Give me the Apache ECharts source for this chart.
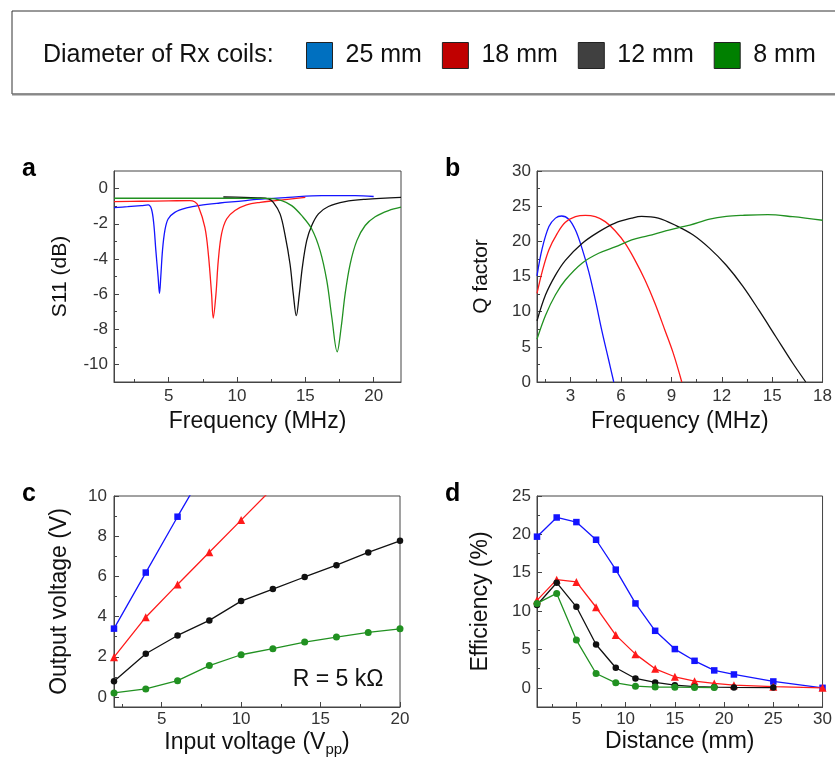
<!DOCTYPE html>
<html>
<head>
<meta charset="utf-8">
<title>Rx coil characterisation</title>
<script src="https://cdn.jsdelivr.net/npm/echarts@6/dist/echarts.min.js"></script>
<style>
  html, body { margin: 0; padding: 0; background: #fff; }
  #chart { width: 835px; height: 765px; }
</style>
</head>
<body>
<div id="chart"></div>
<script>
// ---- series names / colours ----
const coilNames = ['25 mm', '18 mm', '12 mm', '8 mm'];
const lineColors = ['#1414ff', '#ff1a1a', '#111111', '#219121'];
const swatchColors = ['#0070c0', '#c00000', '#404040', '#008000'];
const markerShapes = ['rect', 'triangle', 'circle', 'circle'];

// ---- (a) S11 vs frequency, [MHz, dB] ----
const s11_25mm = [[1.0,-1.08],[2.0,-1.03],[3.0,-0.97],[3.5,-0.93],[3.74,-1.16],[3.91,-2.0],[4.06,-3.5],[4.23,-5.05],[4.33,-5.96],[4.42,-5.05],[4.55,-3.5],[4.72,-2.39],[4.96,-1.73],[5.45,-1.35],[6.31,-1.1],[7.28,-0.95],[8.75,-0.82],[10.46,-0.7],[11.44,-0.61],[13.76,-0.5],[16.2,-0.4],[18.65,-0.4],[20.0,-0.45]];
const s11_18mm = [[1.0,-0.74],[3.0,-0.72],[5.0,-0.7],[6.56,-0.68],[6.9,-0.75],[7.16,-0.97],[7.65,-2.2],[7.9,-3.7],[8.14,-6.0],[8.26,-7.36],[8.46,-6.0],[8.63,-4.1],[8.87,-2.58],[9.24,-1.73],[9.85,-1.25],[10.7,-0.93],[11.7,-0.78],[12.83,-0.68],[15.0,-0.5]];
const s11_12mm = [[9.0,-0.48],[10.5,-0.5],[11.5,-0.53],[12.3,-0.58],[12.66,-0.78],[13.15,-1.44],[13.5,-2.58],[13.88,-4.29],[14.12,-6.0],[14.34,-7.23],[14.56,-6.0],[14.78,-4.48],[15.1,-2.96],[15.47,-2.1],[15.96,-1.44],[16.69,-1.02],[17.91,-0.74],[19.38,-0.61],[22.0,-0.5]];
const s11_8mm = [[1.0,-0.55],[5.0,-0.55],[9.0,-0.55],[12.3,-0.56],[13.27,-0.68],[14.0,-0.97],[14.74,-1.54],[15.47,-2.3],[16.08,-3.53],[16.57,-5.24],[16.94,-7.33],[17.33,-9.28],[17.62,-7.9],[17.91,-6.0],[18.28,-4.29],[18.77,-2.96],[19.38,-2.1],[20.11,-1.6],[21.09,-1.25],[22.0,-1.06]];

// ---- (b) Q factor vs frequency, [MHz, Q] ----
const q_25mm = [[1.0,15.1],[1.31,19.0],[1.71,22.1],[2.1,23.3],[2.46,23.6],[2.89,23.15],[3.29,21.6],[3.68,19.0],[4.08,15.7],[4.47,11.7],[4.87,7.2],[5.26,3.2],[5.57,0]];
const q_18mm = [[1.0,12.6],[1.31,15.7],[1.71,18.8],[2.2,21.1],[2.69,22.7],[3.29,23.5],[3.88,23.7],[4.47,23.5],[5.06,22.8],[5.65,21.5],[6.25,19.7],[6.84,17.3],[7.43,14.5],[8.02,11.2],[8.61,7.4],[9.11,4.1],[9.62,0]];
const q_12mm = [[1.0,8.7],[1.51,12.4],[2.1,15.2],[2.69,17.3],[3.68,19.7],[4.67,21.35],[5.65,22.6],[6.64,23.3],[7.23,23.55],[8.22,23.3],[9.31,22.2],[10.3,20.9],[11.28,19.0],[12.27,16.6],[13.26,13.6],[14.24,10.1],[15.23,6.4],[16.22,2.7],[17.0,0]];
const q_8mm = [[1.0,6.1],[1.51,9.5],[2.1,12.4],[2.69,14.5],[3.68,16.9],[4.67,18.3],[5.65,19.2],[6.64,20.2],[7.63,20.8],[8.61,21.45],[9.5,22.0],[10.1,22.3],[11.28,23.15],[12.27,23.55],[13.26,23.7],[14.74,23.8],[16.22,23.5],[18.0,23.0]];

// ---- (c) output voltage vs input voltage ----
const inputVpp = [2, 4, 6, 8, 10, 12, 14, 16, 18, 20];
const vout_25mm = [3.4, 6.19, 8.97, 11.7];
const vout_18mm = [1.98, 3.97, 5.6, 7.2, 8.8, 10.4];
const vout_12mm = [0.78, 2.15, 3.06, 3.81, 4.77, 5.37, 5.97, 6.56, 7.19, 7.77];
const vout_8mm = [0.2, 0.4, 0.81, 1.56, 2.1, 2.4, 2.73, 2.98, 3.21, 3.39];

// ---- (d) efficiency vs distance ----
const distanceMm = [1, 3, 5, 7, 9, 11, 13, 15, 17, 19, 21, 25, 30];
const eff_25mm = [19.7, 22.2, 21.6, 19.3, 15.4, 11.0, 7.43, 5.05, 3.52, 2.27, 1.74, 0.83, 0];
const eff_18mm = [11.4, 14.1, 13.8, 10.5, 6.87, 4.39, 2.48, 1.44, 0.87, 0.57, 0.35, 0.15, 0];
const eff_12mm = [10.8, 13.7, 10.56, 5.65, 2.61, 1.22, 0.7, 0.35, 0.15, 0.08, 0.05, 0.03];
const eff_8mm = [11.0, 12.3, 6.22, 1.87, 0.65, 0.22, 0.1, 0.08, 0.05, 0.03];

// ---- tick labels (major) and minor tick positions ----
const ticksA_x = [5, 10, 15, 20],            minorA_x = [2.5, 7.5, 12.5, 17.5];
const ticksA_y = [-10, -8, -6, -4, -2, 0],   minorA_y = [-9, -7, -5, -3, -1];
const ticksB_x = [3, 6, 9, 12, 15, 18],      minorB_x = [1.5, 4.5, 7.5, 10.5, 13.5, 16.5];
const ticksB_y = [0, 5, 10, 15, 20, 25, 30], minorB_y = [2.5, 7.5, 12.5, 17.5, 22.5, 27.5];
const ticksC_x = [5, 10, 15, 20],            minorC_x = [2.5, 7.5, 12.5, 17.5];
const ticksC_y = [0, 2, 4, 6, 8, 10],        minorC_y = [1, 3, 5, 7, 9];
const ticksD_x = [5, 10, 15, 20, 25, 30],    minorD_x = [2.5, 7.5, 12.5, 17.5, 22.5, 27.5];
const ticksD_y = [0, 5, 10, 15, 20, 25],     minorD_y = [2.5, 7.5, 12.5, 17.5, 22.5];

const FONT = "Arial, 'Liberation Sans', sans-serif";
const AXIS_COLOR = '#444';

function zip(xs, ys) { return ys.map((y, i) => [xs[i], y]); }

// a main axis (labels + major ticks) and a companion axis carrying only minor ticks
function axisPair(dim, gridIndex, c) {
  const position = dim === 'x' ? 'bottom' : 'left';
  const main = {
    type: 'value', gridIndex, position, min: c.min, max: c.max,
    name: c.name, nameLocation: 'middle', nameGap: c.nameGap,
    nameTextStyle: Object.assign({ fontSize: c.nameSize, color: '#111', fontFamily: FONT }, c.nameStyle || {}),
    axisLine: { show: true, onZero: false, lineStyle: { color: AXIS_COLOR, width: 1 } },
    axisTick: { show: true, inside: true, length: 5, customValues: c.ticks, lineStyle: { color: AXIS_COLOR, width: 1 } },
    axisLabel: { customValues: c.ticks, margin: c.margin, fontSize: 17, color: '#333', fontFamily: FONT },
    splitLine: { show: false }
  };
  const minor = {
    type: 'value', gridIndex, position, min: c.min, max: c.max,
    axisLine: { show: false, onZero: false },
    axisTick: { show: true, inside: true, length: 3, customValues: c.minor, lineStyle: { color: AXIS_COLOR, width: 1 } },
    axisLabel: { show: false },
    splitLine: { show: false }
  };
  return [main, minor];
}

const grids = [
  { left: 114, top: 171, width: 287, height: 211 },
  { left: 537, top: 171, width: 287, height: 211 },
  { left: 114, top: 496, width: 286, height: 211 },
  { left: 537, top: 496, width: 287, height: 211 }
].map(g => Object.assign({ show: true, borderColor: AXIS_COLOR, borderWidth: 1, backgroundColor: '#fff' }, g));

const xAxes = [].concat(
  axisPair('x', 0, { min: 1, max: 22, ticks: ticksA_x, minor: minorA_x, name: 'Frequency (MHz)', nameGap: 28, nameSize: 23, margin: 6 }),
  axisPair('x', 1, { min: 1, max: 18, ticks: ticksB_x, minor: minorB_x, name: 'Frequency (MHz)', nameGap: 28, nameSize: 23, margin: 6 }),
  axisPair('x', 2, { min: 2, max: 20, ticks: ticksC_x, minor: minorC_x,
    name: '{t|Input voltage (V}{sub|pp}{t|)}', nameGap: 22, nameSize: 23, margin: 4,
    nameStyle: { rich: { t: { fontSize: 23, fontFamily: FONT, color: '#111', lineHeight: 28 },
                         sub: { fontSize: 15, fontFamily: FONT, color: '#111', verticalAlign: 'bottom', lineHeight: 12 } } } }),
  axisPair('x', 3, { min: 1, max: 30, ticks: ticksD_x, minor: minorD_x, name: 'Distance (mm)', nameGap: 23, nameSize: 23, margin: 4 })
);
const yAxes = [].concat(
  axisPair('y', 0, { min: -11, max: 1, ticks: ticksA_y, minor: minorA_y, name: 'S11 (dB)', nameGap: 43, nameSize: 21, margin: 6 }),
  axisPair('y', 1, { min: 0, max: 30, ticks: ticksB_y, minor: minorB_y, name: 'Q factor', nameGap: 45, nameSize: 21, margin: 6 }),
  axisPair('y', 2, { min: -0.5, max: 10, ticks: ticksC_y, minor: minorC_y, name: 'Output voltage (V)', nameGap: 43, nameSize: 23, margin: 7 }),
  axisPair('y', 3, { min: -2.5, max: 25, ticks: ticksD_y, minor: minorD_y, name: 'Efficiency (%)', nameGap: 45, nameSize: 23, margin: 6 })
);

const series = [];
const curveSets = [[s11_25mm, s11_18mm, s11_12mm, s11_8mm], [q_25mm, q_18mm, q_12mm, q_8mm]];
curveSets.forEach((set, p) => {
  set.forEach((data, k) => {
    series.push({
      type: 'line', name: coilNames[k], xAxisIndex: 2 * p, yAxisIndex: 2 * p,
      data, showSymbol: false, smooth: 0.35, clip: true, silent: true,
      lineStyle: { color: lineColors[k], width: 1.3 }, itemStyle: { color: lineColors[k] }, z: 3 + k
    });
  });
});
const pointSets = [
  { xs: inputVpp, ys: [vout_25mm, vout_18mm, vout_12mm, vout_8mm] },
  { xs: distanceMm, ys: [eff_25mm, eff_18mm, eff_12mm, eff_8mm] }
];
pointSets.forEach((set, j) => {
  const p = j + 2;
  set.ys.forEach((vals, k) => {
    series.push({
      type: 'line', name: coilNames[k], xAxisIndex: 2 * p, yAxisIndex: 2 * p,
      data: zip(set.xs, vals), symbol: markerShapes[k],
      symbolSize: markerShapes[k] === 'triangle' ? 8 : (k === 3 ? 7 : 6.5),
      showSymbol: true, clip: true, silent: true,
      lineStyle: { color: lineColors[k], width: 1.3 }, itemStyle: { color: lineColors[k] }, z: 3 + k
    });
  });
});

const chart = echarts.init(document.getElementById('chart'), null, { renderer: 'canvas' });
chart.setOption({
  backgroundColor: '#fff',
  animation: false,
  textStyle: { fontFamily: FONT },
  grid: grids,
  xAxis: xAxes,
  yAxis: yAxes,
  legend: {
    left: 301, top: 37, orient: 'horizontal',
    itemWidth: 26, itemHeight: 26, itemGap: 20, selectedMode: false,
    textStyle: { fontSize: 25, color: '#111', fontFamily: FONT, padding: [0, 0, 0, 8] },
    data: coilNames.map((n, k) => ({
      name: n, icon: 'rect',
      itemStyle: { color: swatchColors[k], borderColor: '#222', borderWidth: 1 }
    }))
  },
  graphic: [
    { type: 'rect', shape: { x: 12, y: 11, width: 840, height: 83 },
      style: { fill: 'none', stroke: '#333', lineWidth: 1 } },
    { type: 'line', shape: { x1: 12, y1: 94.5, x2: 840, y2: 94.5 },
      style: { stroke: '#888', lineWidth: 2 } },
    { type: 'text', x: 43, y: 55,
      style: { text: 'Diameter of Rx coils:', font: '25px ' + FONT, fill: '#111', verticalAlign: 'middle' } },
    { type: 'text', x: 22, y: 169, style: { text: 'a', font: 'bold 25px ' + FONT, fill: '#000', verticalAlign: 'middle' } },
    { type: 'text', x: 445, y: 169, style: { text: 'b', font: 'bold 25px ' + FONT, fill: '#000', verticalAlign: 'middle' } },
    { type: 'text', x: 22, y: 494, style: { text: 'c', font: 'bold 25px ' + FONT, fill: '#000', verticalAlign: 'middle' } },
    { type: 'text', x: 445, y: 494, style: { text: 'd', font: 'bold 25px ' + FONT, fill: '#000', verticalAlign: 'middle' } },
    { type: 'text', x: 338, y: 680, z: 100,
      style: { text: 'R = 5 k\u03A9', font: '23px ' + FONT, fill: '#111', align: 'center', verticalAlign: 'middle' } }
  ],
  series
});
</script>
</body>
</html>
